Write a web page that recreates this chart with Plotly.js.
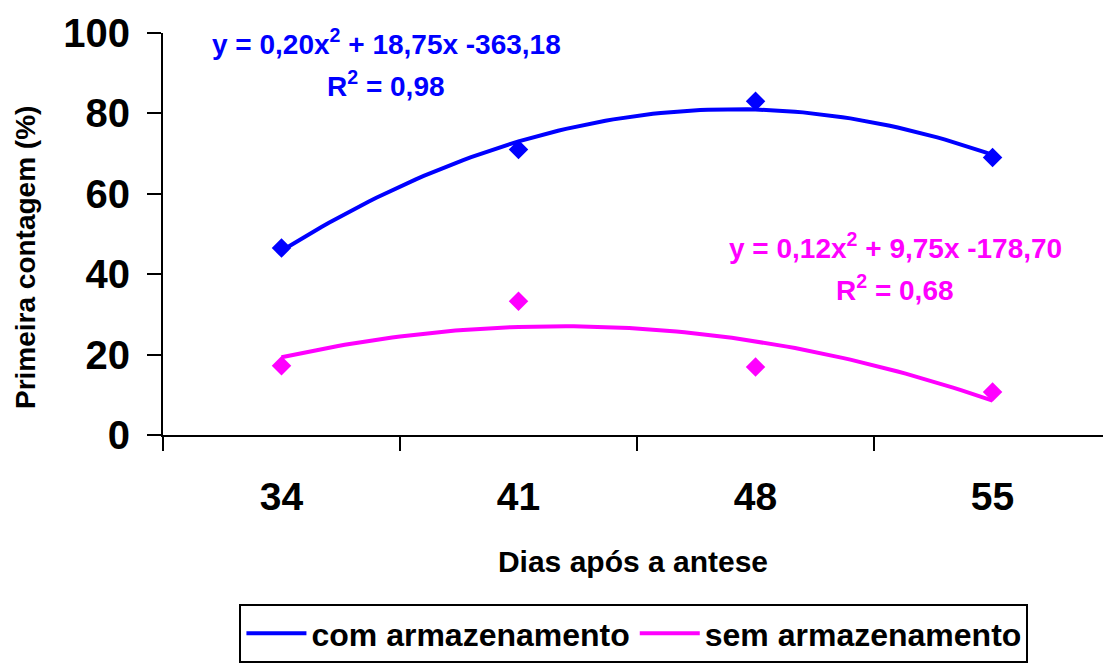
<!DOCTYPE html>
<html>
<head>
<meta charset="utf-8">
<script src="https://cdn.plot.ly/plotly-3.0.1.min.js"></script>
<style>html,body{margin:0;padding:0;background:#fff;}#chart{width:1103px;height:665px;}</style>
</head>
<body>
<div id="chart"></div>
<script>
// Data
const categories = ["34", "41", "48", "55"];
const comArmazenamento = [46.5, 71, 83, 69];
const semArmazenamento = [17.2, 33.3, 16.9, 10.7];
const seriesNames = ["com armazenamento", "sem armazenamento"];
const eqCom = ["y = 0,20x<sup>2</sup> + 18,75x -363,18", "R<sup>2</sup> = 0,98"];
const eqSem = ["y = 0,12x<sup>2</sup> + 9,75x -178,70", "R<sup>2</sup> = 0,68"];
const yTicks = [0, 20, 40, 60, 80, 100];
const xTitle = "Dias após a antese";
const yTitle = "Primeira contagem (%)";

const BLUE = "#0000FF", PINK = "#FF00FF";
const FONT = "Arial, 'Liberation Sans', sans-serif";

// least-squares quadratic trendline over category index (like spreadsheet trendline)
function quadFit(ys) {
  const xs = ys.map((_, i) => i);
  let S = [0,0,0,0,0], T = [0,0,0];
  xs.forEach((x, i) => {
    for (let k = 0; k < 5; k++) S[k] += Math.pow(x, k);
    for (let k = 0; k < 3; k++) T[k] += ys[i] * Math.pow(x, k);
  });
  const A = [[S[0],S[1],S[2],T[0]],[S[1],S[2],S[3],T[1]],[S[2],S[3],S[4],T[2]]];
  for (let c = 0; c < 3; c++) {
    for (let r = c + 1; r < 3; r++) {
      const f = A[r][c] / A[c][c];
      for (let k = c; k < 4; k++) A[r][k] -= f * A[c][k];
    }
  }
  const b = [0,0,0];
  for (let r = 2; r >= 0; r--) {
    let s = A[r][3];
    for (let k = r + 1; k < 3; k++) s -= A[r][k] * b[k];
    b[r] = s / A[r][r];
  }
  const n = ys.length - 1;
  const tx = [], ty = [];
  for (let i = 0; i <= 90; i++) {
    const x = n * i / 90;
    tx.push(x); ty.push(b[0] + b[1] * x + b[2] * x * x);
  }
  return {x: tx, y: ty};
}
const fitCom = quadFit(comArmazenamento);
const fitSem = quadFit(semArmazenamento);

const xr = [-0.5, 3.466];

const traces = [
  {x: fitCom.x, y: fitCom.y, xaxis: "x2", yaxis: "y", mode: "lines", name: seriesNames[0],
   line: {color: BLUE, width: 4}, showlegend: true},
  {x: fitSem.x, y: fitSem.y, xaxis: "x2", yaxis: "y", mode: "lines", name: seriesNames[1],
   line: {color: PINK, width: 4}, showlegend: true},
  {x: categories, y: comArmazenamento, mode: "markers", type: "scatter", showlegend: false,
   marker: {symbol: "diamond", size: 15, color: BLUE}},
  {x: categories, y: semArmazenamento, mode: "markers", type: "scatter", showlegend: false,
   marker: {symbol: "diamond", size: 15, color: PINK}}
];

function px2x(px) { return (px - 163) / 237 - 0.5; }
function px2y(py) { return (435 - py) / 4.02; }

const annFont = (c) => ({family: FONT, size: 28, color: c, weight: "bold"});
const annotations = [
  {text: "<b>" + eqCom[0] + "</b>", x: px2x(386), y: px2y(42), xref: "x2", yref: "y", showarrow: false, font: annFont(BLUE)},
  {text: "<b>" + eqCom[1] + "</b>", x: px2x(386), y: px2y(84), xref: "x2", yref: "y", showarrow: false, font: annFont(BLUE)},
  {text: "<b>" + eqSem[0] + "</b>", x: px2x(895), y: px2y(246), xref: "x2", yref: "y", showarrow: false, font: annFont(PINK)},
  {text: "<b>" + eqSem[1] + "</b>", x: px2x(895), y: px2y(288), xref: "x2", yref: "y", showarrow: false, font: annFont(PINK)}
];

const layout = {
  width: 1103, height: 665,
  paper_bgcolor: "#fff", plot_bgcolor: "#fff",
  margin: {l: 163, r: 0, t: 33, b: 230, pad: 0},
  showlegend: true,
  font: {family: FONT, color: "#000"},
  xaxis: {
    type: "category", categoryorder: "array", categoryarray: categories,
    range: xr, tickson: "boundaries", ticks: "outside", ticklen: 14, tickwidth: 2, tickcolor: "#000",
    showline: true, linewidth: 2, linecolor: "#000", showgrid: false, zeroline: false,
    tickfont: {family: FONT, size: 39, color: "#000", weight: "bold"},
    ticklabelstandoff: 26,
    title: {text: "<b>" + xTitle + "</b>", font: {family: FONT, size: 30, color: "#000"}, standoff: 34}
  },
  xaxis2: {overlaying: "x", range: xr, visible: false, showgrid: false, zeroline: false},
  yaxis: {
    range: [0, 100], tickvals: yTicks, ticks: "outside", ticklen: 14, tickwidth: 2, tickcolor: "#000",
    showline: true, linewidth: 2, linecolor: "#000", showgrid: false, zeroline: false,
    tickfont: {family: FONT, size: 40, color: "#000", weight: "bold"},
    ticklabelstandoff: 9,
    title: {text: "<b>" + yTitle + "\u00A0\u00A0\u00A0\u00A0\u00A0\u00A0</b>", font: {family: FONT, size: 28, color: "#000"}, standoff: 19}
  },
  legend: {
    orientation: "h", x: 0.501, xanchor: "center", y: -0.567, yanchor: "bottom",
    bordercolor: "#000", borderwidth: 2, bgcolor: "#fff",
    font: {family: FONT, size: 32, color: "#000", weight: "bold"},
    itemwidth: 60, tracegroupgap: 0
  },
  annotations: annotations
};

Plotly.newPlot("chart", traces, layout, {displayModeBar: false, staticPlot: true});
</script>
</body>
</html>
